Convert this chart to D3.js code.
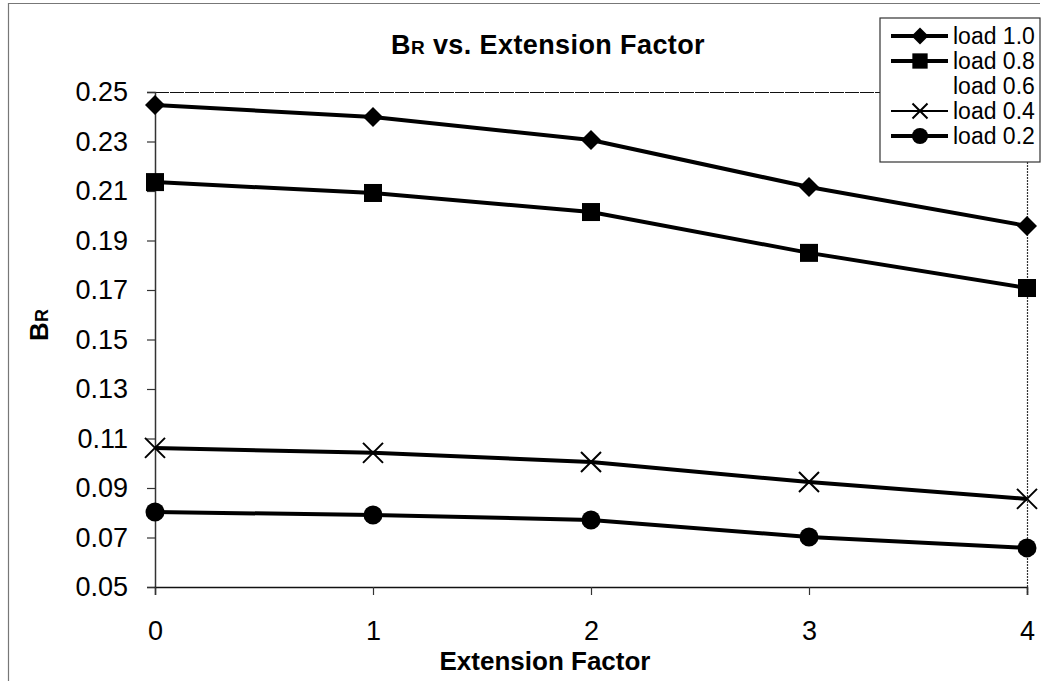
<!DOCTYPE html>
<html>
<head>
<meta charset="utf-8">
<script src="https://cdn.jsdelivr.net/npm/d3@7"></script>
<style>
  html, body { margin: 0; padding: 0; background: #fff; }
  svg { display: block; font-family: "Liberation Sans", Arial, sans-serif; }
</style>
</head>
<body>
<svg id="chart" width="1045" height="681"></svg>
<script>
const xCategories = [0, 1, 2, 3, 4];
const yTicks = [0.05, 0.07, 0.09, 0.11, 0.13, 0.15, 0.17, 0.19, 0.21, 0.23, 0.25];
const seriesNames = ["load 1.0", "load 0.8", "load 0.6", "load 0.4", "load 0.2"];
const load10 = [0.2447, 0.2399, 0.2306, 0.2116, 0.1959];
const load08 = [0.2136, 0.2092, 0.2015, 0.1850, 0.1708];
const load06 = [];
const load04 = [0.1062, 0.1042, 0.1005, 0.0924, 0.0856];
const load02 = [0.0803, 0.0791, 0.0771, 0.0702, 0.0658];
const seriesMarkers = ["diamond", "square", "none", "cross", "circle"];

const series = [load10, load08, load06, load04, load02].map((vals, i) => ({
  name: seriesNames[i], marker: seriesMarkers[i],
  values: vals.map((v, j) => ({ x: xCategories[j], y: v }))
}));

const svg = d3.select("#chart");
const plot = { left: 155, right: 1027, top: 92, bottom: 587 };

const x = d3.scaleLinear().domain([0, 4]).range([plot.left, plot.right]);
const y = d3.scaleLinear().domain([0.05, 0.25]).range([plot.bottom, plot.top]);

// outer frame (partial, as in scan)
svg.append("line").attr("x1", 8.5).attr("x2", 8.5).attr("y1", 3).attr("y2", 681)
  .attr("stroke", "#777").attr("stroke-width", 1.2);
svg.append("line").attr("x1", 8).attr("x2", 1040).attr("y1", 3.5).attr("y2", 3.5)
  .attr("stroke", "#777").attr("stroke-width", 1.2);

// plot area top and right borders
svg.append("line").attr("x1", plot.left).attr("x2", 880).attr("y1", plot.top + 0.5).attr("y2", plot.top + 0.5)
  .attr("stroke", "#111").attr("stroke-width", 1.2).attr("stroke-dasharray", "14,1");
svg.append("line").attr("x1", plot.right + 0.5).attr("x2", plot.right + 0.5).attr("y1", 162).attr("y2", plot.bottom + 8)
  .attr("stroke", "#333").attr("stroke-width", 1.2).attr("stroke-dasharray", "2,1");

// axes
const yAxis = d3.axisLeft(y).tickValues(yTicks).tickFormat(d3.format(".2f")).tickSize(8).tickPadding(19);
const gy = svg.append("g").attr("transform", `translate(${plot.left},0)`).call(yAxis);
gy.select(".domain").attr("stroke", "#333").attr("stroke-width", 1.5);
gy.selectAll(".tick line").attr("stroke", "#333").attr("stroke-width", 1.2);
gy.selectAll(".tick text").attr("font-size", 27).attr("fill", "#000")
  .attr("font-family", "'Liberation Sans', Arial, sans-serif");

const xAxis = d3.axisBottom(x).tickValues(xCategories).tickFormat(d3.format("d")).tickSize(8).tickPadding(26);
const gx = svg.append("g").attr("transform", `translate(0,${plot.bottom})`).call(xAxis);
gx.select(".domain").attr("stroke", "#111").attr("stroke-width", 1.5);
gx.selectAll(".tick line").attr("stroke", "#333").attr("stroke-width", 1.2);
gx.selectAll(".tick text").attr("font-size", 27).attr("fill", "#000")
  .attr("font-family", "'Liberation Sans', Arial, sans-serif");

// lines
const line = d3.line().x(d => x(d.x)).y(d => y(d.y));
const g = svg.append("g");
series.forEach(s => {
  if (!s.values.length) return;
  g.append("path").datum(s.values).attr("d", line)
    .attr("fill", "none").attr("stroke", "#000").attr("stroke-width", 4).attr("stroke-linejoin", "round");
});

function drawMarker(sel, type, cx, cy, scale) {
  scale = scale || 1;
  if (type === "diamond") {
    const r = 10 * scale;
    sel.append("path").attr("d", `M${cx},${cy - r}L${cx + r},${cy}L${cx},${cy + r}L${cx - r},${cy}Z`).attr("fill", "#000");
  } else if (type === "square") {
    const h = 9 * scale;
    sel.append("rect").attr("x", cx - h).attr("y", cy - h).attr("width", 2 * h).attr("height", 2 * h).attr("fill", "#000");
  } else if (type === "circle") {
    sel.append("circle").attr("cx", cx).attr("cy", cy).attr("r", 9.5 * scale).attr("fill", "#000");
  } else if (type === "cross") {
    const r = 10 * scale;
    sel.append("path").attr("d", `M${cx - r},${cy - r}L${cx + r},${cy + r}M${cx - r},${cy + r}L${cx + r},${cy - r}`)
      .attr("stroke", "#000").attr("stroke-width", 2).attr("fill", "none");
  }
}
series.forEach(s => {
  s.values.forEach(d => drawMarker(g, s.marker, x(d.x), y(d.y)));
});

// title
const title = svg.append("text").attr("x", 548).attr("y", 54).attr("text-anchor", "middle")
  .attr("font-weight", "bold").attr("font-size", 27).attr("letter-spacing", 0.4).attr("fill", "#000");
title.append("tspan").text("B");
title.append("tspan").attr("font-size", 19).text("R");
title.append("tspan").text(" vs. Extension Factor");

// axis titles
svg.append("text").attr("x", 545).attr("y", 670).attr("text-anchor", "middle")
  .attr("font-weight", "bold").attr("font-size", 26).attr("fill", "#000").text("Extension Factor");
const yt = svg.append("text").attr("transform", "translate(48,325) rotate(-90)").attr("text-anchor", "middle")
  .attr("font-weight", "bold").attr("font-size", 26).attr("fill", "#000");
yt.append("tspan").text("B");
yt.append("tspan").attr("font-size", 18).text("R");

// legend
const lg = svg.append("g");
lg.append("rect").attr("x", 880).attr("y", 18).attr("width", 160).attr("height", 144)
  .attr("fill", "#fff").attr("stroke", "#333").attr("stroke-width", 1.2);
series.forEach((s, i) => {
  const cy = 36 + i * 25;
  if (s.marker !== "none") {
    lg.append("line").attr("x1", 891).attr("x2", 948).attr("y1", cy).attr("y2", cy)
      .attr("stroke", "#000").attr("stroke-width", s.marker === "cross" ? 2 : 4);
    drawMarker(lg, s.marker, 920, cy, s.marker === "cross" ? 0.75 : 0.85);
  }
  lg.append("text").attr("x", 953).attr("y", cy).attr("dy", "0.35em")
    .attr("font-size", 23).attr("fill", "#000").text(s.name);
});
</script>
</body>
</html>
